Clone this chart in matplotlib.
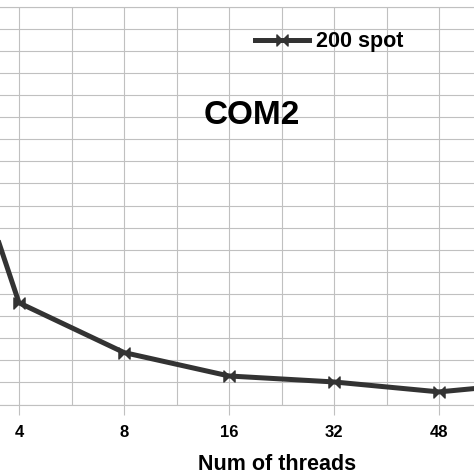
import matplotlib
matplotlib.use("Agg")
import matplotlib.pyplot as plt
from matplotlib.path import Path

# thread counts (2 and 64 sit just outside the visible crop)
threads = ["2", "4", "8", "16", "32", "48", "64"]
run_time = [188, 46, 23.5, 12.9, 10.2, 5.7, 10.2]
series_name = "200 spot"

plt.rcParams['font.family'] = ['Liberation Sans', 'DejaVu Sans']
plt.rcParams['font.weight'] = 'bold'

grid_col = "#c0c0c0"
line_col = "#333333"

# bow-tie marker: two triangles pointing at each other
bowtie = Path([(-1, 1), (0, 0), (-1, -1), (-1, 1),
               (1, 1), (0, 0), (1, -1), (1, 1)],
              [Path.MOVETO, Path.LINETO, Path.LINETO, Path.CLOSEPOLY,
               Path.MOVETO, Path.LINETO, Path.LINETO, Path.CLOSEPOLY])

W = H = 474
fig = plt.figure(figsize=(W / 100, H / 100), dpi=100)
# plot area runs past the left and right edges of the picture
left_px, right_px = -138.5, 596.5
top_px, bot_px = 6.5, 404.5
ax = fig.add_axes([left_px / W, 1 - bot_px / H,
                   (right_px - left_px) / W, (bot_px - top_px) / H])

x = list(range(len(threads)))
ax.plot(x, run_time, color=line_col, lw=3.6, marker=bowtie, ms=8,
        mfc=line_col, mec=line_col, label=series_name, zorder=3)

ax.set_xlim(-0.5, len(threads) - 0.5)
ax.set_ylim(0, 180)
ax.set_xticks(x)
# the outer categories fall outside the crop, so no label for them
shown = [t if 0 < i < len(threads) - 1 else "" for i, t in enumerate(threads)]
ax.set_xticklabels(shown, fontsize=12, fontweight='bold')
ax.set_xticks([i + 0.5 for i in x[:-1]], minor=True)
ax.set_yticks(range(0, 181, 10))
ax.tick_params(axis='x', which='major', length=7.5, width=0.8, color=grid_col, pad=7)
ax.tick_params(axis='x', which='minor', length=0)
ax.tick_params(axis='y', length=0, labelleft=False)

ax.grid(True, which='major', color=grid_col, lw=0.8)
ax.grid(True, which='minor', axis='x', color=grid_col, lw=0.8)
ax.set_axisbelow(True)
for s in ax.spines.values():
    s.set_color(grid_col)
    s.set_linewidth(0.8)

ax.set_xlabel("Num of threads", fontsize=15.5, fontweight='bold')
ax.xaxis.set_label_coords((277.5 - left_px) / (right_px - left_px),
                          -(469.5 - bot_px) / (bot_px - top_px))
ax.xaxis.label.set_va('baseline')

fig.text(251.7 / W, 1 - 116 / H, "COM2", fontsize=24, fontweight='bold',
         ha='center', va='center')

ax.legend(loc='center left', bbox_to_anchor=(255 / W, 1 - 41.7 / H),
          bbox_transform=fig.transFigure, frameon=False, borderpad=0,
          borderaxespad=0, handlelength=2.5, handletextpad=0.35,
          prop={'size': 15.5, 'weight': 'bold'})

fig.savefig("out.png", dpi=100)
